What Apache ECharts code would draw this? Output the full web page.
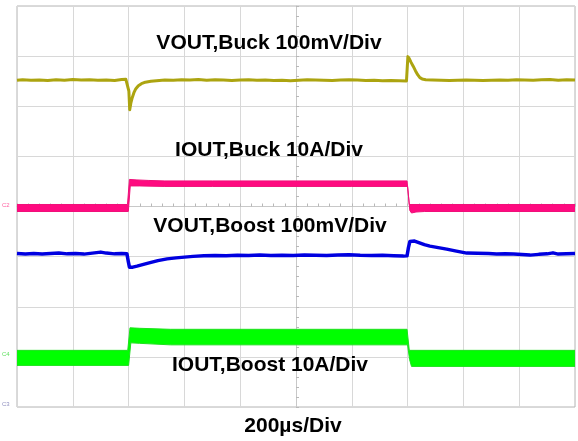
<!DOCTYPE html>
<html>
<head>
<meta charset="utf-8">
<script src="https://cdn.jsdelivr.net/npm/echarts@6/dist/echarts.min.js"></script>
<style>
html,body{margin:0;padding:0;background:#fff;}
#c{width:578px;height:441px;}
</style>
</head>
<body>
<div id="c"></div>
<script>
// time in µs (200 µs/div), vertical position in screen divisions (centre = 0)
const voutBuck = [[-1000,2.52],[-980,2.53],[-950,2.52],[-920,2.525],[-890,2.515],[-860,2.53],[-830,2.52],[-800,2.535],[-770,2.525],[-740,2.53],[-710,2.52],[-680,2.525],[-650,2.515],[-625,2.535],[-610,2.54],[-603,2.53],[-599,2.30],[-596,1.93],[-592,2.06],[-587,2.17],[-581,2.27],[-574,2.35],[-565,2.41],[-554,2.45],[-540,2.48],[-520,2.50],[-500,2.51],[-470,2.525],[-440,2.52],[-410,2.53],[-380,2.525],[-350,2.535],[-320,2.52],[-290,2.53],[-260,2.525],[-230,2.515],[-200,2.525],[-170,2.53],[-140,2.52],[-110,2.525],[-80,2.515],[-50,2.52],[-20,2.51],[10,2.52],[40,2.53],[70,2.525],[100,2.52],[130,2.515],[160,2.525],[190,2.53],[220,2.525],[250,2.515],[280,2.52],[310,2.51],[340,2.515],[370,2.51],[396,2.505],[399,2.52],[401,2.99],[406,2.95],[412,2.88],[420,2.80],[428,2.71],[436,2.63],[444,2.57],[452,2.545],[465,2.53],[490,2.525],[520,2.52],[550,2.515],[580,2.52],[610,2.525],[640,2.52],[670,2.515],[700,2.52],[730,2.525],[760,2.52],[790,2.53],[820,2.525],[850,2.52],[880,2.53],[910,2.535],[940,2.52],[970,2.53],[1000,2.525]];
const ioutBuckUpper = [[-1000,0.04],[-604,0.04],[-597,0.54],[-570,0.53],[-530,0.52],[-470,0.51],[-300,0.51],[0,0.51],[200,0.51],[398,0.51],[406,0.04],[1000,0.04]];
const ioutBuckLower = [[-1000,-0.10],[-601,-0.10],[-594,0.41],[-560,0.41],[-470,0.40],[-300,0.40],[0,0.40],[200,0.40],[400,0.40],[408,-0.08],[414,-0.13],[430,-0.11],[460,-0.10],[1000,-0.10]];
const voutBoost = [[-1000,-0.94],[-970,-0.95],[-940,-0.94],[-910,-0.95],[-880,-0.94],[-850,-0.93],[-820,-0.945],[-790,-0.94],[-760,-0.95],[-730,-0.93],[-700,-0.91],[-680,-0.93],[-650,-0.945],[-625,-0.94],[-606,-0.945],[-601,-1.10],[-597,-1.21],[-585,-1.21],[-570,-1.19],[-550,-1.16],[-523,-1.12],[-495,-1.08],[-462,-1.045],[-430,-1.025],[-400,-1.01],[-369,-0.995],[-330,-0.985],[-290,-0.98],[-250,-0.985],[-210,-0.975],[-170,-0.98],[-130,-0.97],[-90,-0.98],[-50,-0.975],[-10,-0.98],[30,-0.97],[70,-0.975],[110,-0.98],[150,-0.97],[190,-0.965],[230,-0.975],[270,-0.98],[310,-0.975],[350,-0.985],[385,-0.99],[398,-0.985],[403,-0.82],[408,-0.70],[415,-0.67],[425,-0.69],[440,-0.72],[460,-0.76],[480,-0.79],[510,-0.82],[540,-0.85],[575,-0.89],[612,-0.93],[650,-0.935],[690,-0.94],[719,-0.95],[750,-0.945],[780,-0.95],[810,-0.96],[839,-0.97],[870,-0.955],[900,-0.945],[921,-0.925],[940,-0.95],[970,-0.945],[1000,-0.94]];
const ioutBoostUpper = [[-1000,-2.87],[-603,-2.87],[-595,-2.42],[-560,-2.43],[-450,-2.45],[0,-2.45],[398,-2.45],[406,-2.87],[1000,-2.87]];
const ioutBoostLower = [[-1000,-3.17],[-600,-3.17],[-592,-2.72],[-560,-2.73],[-450,-2.76],[0,-2.76],[400,-2.76],[407,-3.05],[414,-3.19],[1000,-3.19]];

const labels = ['VOUT,Buck 100mV/Div','IOUT,Buck 10A/Div','VOUT,Boost 100mV/Div','IOUT,Boost 10A/Div'];
const timeLabel = '200µs/Div';

const chart = echarts.init(document.getElementById('c'), null, {renderer:'canvas'});
const font = '"Liberation Sans", Arial, sans-serif';
function txt(s, x, y){
  return {type:'text', x:x, y:y, z:100, style:{text:s, font:'bold 21px ' + font, fill:'#000', textAlign:'center', textVerticalAlign:'middle'}};
}
function tiny(s, x, y, c){
  return {type:'text', x:x, y:y, z:100, style:{text:s, font:'6px ' + font, fill:c, textAlign:'left', textVerticalAlign:'middle'}};
}
function band(upper, lower, fill, stroke, z){
  return {type:'custom', z:z, data:[[0,0]], clip:true,
    renderItem:function(params, api){
      const pts = upper.map(p => api.coord(p)).concat(lower.slice().reverse().map(p => api.coord(p)));
      return {type:'polygon', shape:{points:pts}, style:{fill:fill, stroke:stroke, lineWidth:1}};
    }};
}
chart.setOption({
  animation:false,
  backgroundColor:'#fff',
  grid:{left:17, top:6, width:558, height:401, show:true, borderColor:'#b4b4b4', borderWidth:1},
  xAxis:{type:'value', min:-1000, max:1000, interval:200,
    axisLine:{show:true, onZero:true, lineStyle:{color:'#c8c8c8', width:1}},
    axisTick:{show:true, inside:true, length:3, lineStyle:{color:'#b8b8b8'}},
    minorTick:{show:true, splitNumber:5, length:3, lineStyle:{color:'#b8b8b8'}},
    axisLabel:{show:false},
    splitLine:{show:true, lineStyle:{color:'#d8d8d8', width:1}}},
  yAxis:{type:'value', min:-4, max:4, interval:1,
    axisLine:{show:true, onZero:true, lineStyle:{color:'#c8c8c8', width:1}},
    axisTick:{show:true, inside:true, length:3, lineStyle:{color:'#b8b8b8'}},
    minorTick:{show:true, splitNumber:5, length:3, lineStyle:{color:'#b8b8b8'}},
    axisLabel:{show:false},
    splitLine:{show:true, lineStyle:{color:'#d8d8d8', width:1}}},
  series:[
    band(ioutBoostUpper, ioutBoostLower, '#00ff00', '#1ee01e', 2),
    band(ioutBuckUpper, ioutBuckLower, '#ff0a80', '#f0107a', 3),
    {type:'line', data:voutBoost, showSymbol:false, symbol:'none', lineStyle:{color:'#0000e0', width:3.5, join:'round'}, z:4},
    {type:'line', data:voutBuck, showSymbol:false, symbol:'none', lineStyle:{color:'#aca410', width:3, join:'round'}, z:5}
  ],
  graphic:[
    txt(labels[0], 269, 43),
    txt(labels[1], 269, 150),
    txt(labels[2], 270, 226),
    txt(labels[3], 270, 365),
    txt(timeLabel, 293, 426),
    tiny('C2', 2, 205, '#ff5fa0'),
    tiny('C4', 2, 354, '#60e060'),
    tiny('C3', 2, 404, '#9090c0')
  ]
});
</script>
</body>
</html>
